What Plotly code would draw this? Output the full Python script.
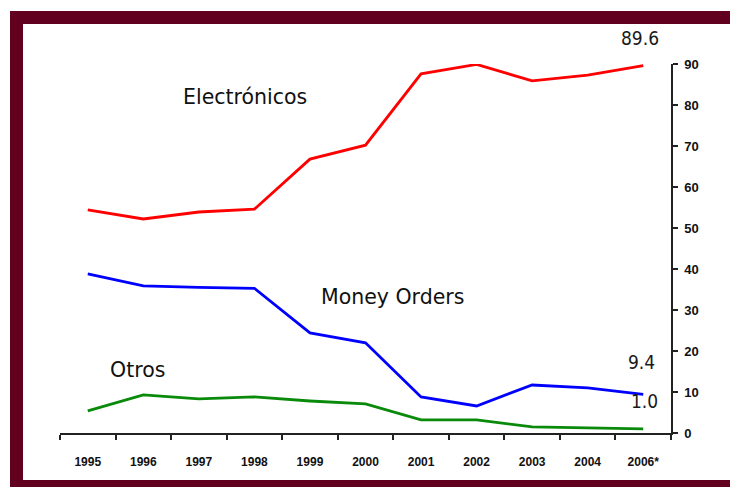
import plotly.graph_objects as go

years = ["1995", "1996", "1997", "1998", "1999", "2000", "2001", "2002", "2003", "2004", "2006*"]
electronicos = [54.4, 52.2, 53.9, 54.6, 66.8, 70.2, 87.6, 89.9, 85.9, 87.3, 89.6]
money_orders = [38.8, 35.9, 35.5, 35.3, 24.4, 22.0, 8.8, 6.6, 11.7, 11.0, 9.4]
otros = [5.4, 9.3, 8.3, 8.8, 7.8, 7.1, 3.2, 3.2, 1.5, 1.2, 1.0]
y_ticks = [0, 10, 20, 30, 40, 50, 60, 70, 80, 90]

# page offset from the default body margin
OFF = 8
W, H = 738 - OFF, 487 - OFF
L, R, T, B = 60 - OFF, 67, 64 - OFF, 54
pw, ph = W - L - R, H - T - B

def px(x):
    return (x - OFF - L) / pw

def py(y):
    return (H - B - (y - OFF)) / ph

fig = go.Figure()
fig.add_trace(go.Scatter(x=years, y=electronicos, mode="lines",
                         line=dict(color="#ff0000", width=2.8), name="Electrónicos"))
fig.add_trace(go.Scatter(x=years, y=money_orders, mode="lines",
                         line=dict(color="#0000ff", width=2.8), name="Money Orders"))
fig.add_trace(go.Scatter(x=years, y=otros, mode="lines",
                         line=dict(color="#0a8a0a", width=2.8), name="Otros"))

label_font = dict(family="DejaVu Sans, Verdana, sans-serif", size=20.5, color="#111111")
num_font = dict(family="DejaVu Sans Condensed, Arial Narrow, sans-serif", size=19, color="#1a1a1a")

annotations = [
    dict(x=2.83, y=82, xref="x", yref="y", text="Electrónicos", showarrow=False, font=label_font),
    dict(x=5.48, y=33.2, xref="x", yref="y", text="Money Orders", showarrow=False, font=label_font),
    dict(x=0.9, y=15.4, xref="x", yref="y", text="Otros", showarrow=False, font=label_font),
    dict(x=10, y=electronicos[-1], xref="x", yref="y", text=f"{electronicos[-1]:.1f}",
         showarrow=False, yshift=28, xshift=-3, font=num_font),
    dict(x=10, y=money_orders[-1], xref="x", yref="y", text=f"{money_orders[-1]:.1f}",
         showarrow=False, yshift=32, xshift=-2, font=num_font),
    dict(x=10, y=otros[-1], xref="x", yref="y", text=f"{otros[-1]:.1f}",
         showarrow=False, yshift=28, xshift=1, font=num_font),
]

frame = "#620020"
shapes = [
    dict(type="rect", xref="paper", yref="paper", x0=px(10), x1=px(23), y0=py(11), y1=py(487),
         fillcolor=frame, line=dict(width=0), layer="above"),
    dict(type="rect", xref="paper", yref="paper", x0=px(10), x1=px(738), y0=py(11), y1=py(24),
         fillcolor=frame, line=dict(width=0), layer="above"),
    dict(type="rect", xref="paper", yref="paper", x0=px(10), x1=px(738), y0=py(480), y1=py(487),
         fillcolor=frame, line=dict(width=0), layer="above"),
]

tick_font = dict(family="Liberation Sans, Arial, sans-serif", color="#111111", weight="bold")

fig.update_layout(
    width=W, height=H,
    margin=dict(l=L, r=R, t=T, b=B),
    paper_bgcolor="white", plot_bgcolor="white",
    showlegend=False,
    annotations=annotations,
    shapes=shapes,
    xaxis=dict(type="category", range=[-0.5, 10.5], showline=True, linecolor="#222222", linewidth=1.5,
               ticks="outside", tickson="boundaries", ticklen=5, tickcolor="#222222", tickwidth=1.5,
               showgrid=False, zeroline=False, tickfont=dict(tick_font, size=12),
               ticklabelstandoff=17, fixedrange=True),
    yaxis=dict(side="right", range=[0, 90], tickvals=y_ticks, showline=True, linecolor="#222222",
               linewidth=1.5, ticks="outside", ticklen=5, tickcolor="#222222", tickwidth=1.5,
               showgrid=False, zeroline=False, tickfont=dict(tick_font, size=13),
               ticklabelstandoff=4, fixedrange=True),
)

fig.write_html("out.html")
